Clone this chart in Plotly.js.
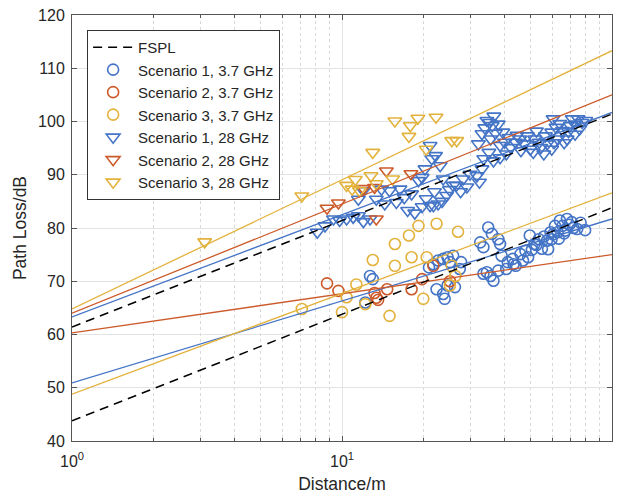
<!DOCTYPE html>
<html><head><meta charset="utf-8">
<script src="https://cdn.plot.ly/plotly-3.0.1.min.js"></script>
<style>html,body{margin:0;padding:0;background:#fff}</style>
</head><body><div id="chart" style="width:622px;height:495px"></div>
<script>
// ---- data ----
const s1_37_x = [12.2,12.7,13.0,21.0,21.8,22.7,23.7,24.6,25.8,22.4,23.7,24.0,24.6,26.2,27.3,27.6,25.1,32.5,34.8,35.9,37.9,33.4,38.5,33.4,35.5,36.4,37.9,34.4,41.1,42.9,44.0,45.8,47.8,48.9,49.6,51.7,53.6,55.0,57.4,59.2,61.5,64.1,65.6,68.1,67.0,70.9,74.3,62.9,59.7,46.8,40.6,52.5,56.0,63.5,66.5,69.5,72.0,76.5,79.5,58.0,60.5,43.2,39.0,50.5];
const s1_37_y = [66.0,71.0,70.4,72.6,73.2,73.9,74.2,74.5,74.8,68.5,67.6,66.7,69.2,68.9,72.3,73.6,73.6,77.3,80.1,78.9,77.9,76.4,77.0,71.4,71.0,70.1,72.0,71.7,73.6,74.2,72.9,75.1,75.7,74.5,78.6,77.0,77.9,76.1,77.6,79.2,80.4,81.4,80.4,81.7,79.5,81.1,79.8,79.2,77.9,73.9,72.3,76.8,78.4,78.0,79.0,80.6,80.0,81.0,79.6,76.0,78.8,73.2,74.8,75.9];
const s2_37_x = [8.8,9.7,13.2,13.4,13.6,14.7,18.1,19.8,21.8,25.1];
const s2_37_y = [69.6,68.2,67.8,66.9,66.5,68.5,68.5,70.4,72.9,70.0];
const s3_37_x = [7.1,10.0,10.4,11.3,12.2,13.0,15.0,15.7,15.7,17.7,18.1,19.2,20.0,20.6,22.4,25.1,25.5,26.9,26.3];
const s3_37_y = [64.8,64.2,67.0,69.4,65.7,74.0,63.5,77.0,72.9,78.6,74.5,80.4,66.7,74.5,80.8,69.2,72.9,79.3,71.0];
const s1_28_x = [8.1,8.65,9.3,9.8,10.4,11.0,11.5,12.0,12.7,11.5,12.0,13.4,14.0,14.4,15.0,15.9,16.4,17.0,18.1,19.2,19.8,20.3,21.2,21.5,22.2,23.1,23.7,21.2,21.8,22.7,24.4,25.0,25.8,26.5,27.5,28.1,29.0,29.8,31.6,32.3,33.0,33.5,34.4,36.0,37.9,33.0,35.5,39.4,32.0,38.5,40.0,36.4,38.5,40.6,42.2,43.9,45.6,47.3,49.8,51.1,48.6,51.7,53.8,55.9,56.7,59.8,60.5,59.8,63.0,65.6,68.2,70.0,72.9,74.9,71.2,75.9,62.0,66.5,54.5,46.0,44.5,41.5,35.0,37.0,57.5,61.0,69.0,77.5,80.0,73.0,52.5,64.0,33.8,35.2,36.5,17.5,18.6,19.8,20.5,22.0,23.5];
const s1_28_y = [79.2,80.4,81.7,81.4,81.7,82.0,82.3,81.2,81.7,85.4,87.0,85.4,87.3,84.5,87.0,84.8,87.3,85.7,86.4,88.9,89.5,91.1,95.5,93.0,93.6,91.7,89.2,84.2,84.2,84.5,86.1,87.2,88.0,88.0,86.8,89.2,87.7,90.1,89.8,88.6,91.1,93.0,100.2,99.2,99.5,97.7,96.7,98.0,95.8,95.5,96.1,92.6,93.2,93.9,95.1,96.1,96.7,95.8,94.8,94.2,97.3,96.7,96.1,93.9,97.3,98.0,100.5,94.8,96.7,98.3,96.7,99.2,99.5,100.5,100.5,98.6,98.9,96.0,95.1,94.5,97.4,97.0,94.2,97.8,95.8,96.0,98.1,99.8,100.2,97.6,98.2,99.6,98.8,99.8,101.0,83.3,82.8,84.0,85.5,86.8,85.0];
const s2_28_x = [8.8,9.7,12.0,13.2,13.4,14.6,18.0];
const s2_28_y = [83.7,84.7,87.4,87.6,81.7,90.7,90.2];
const s3_28_x = [3.1,7.1,10.4,10.9,11.2,11.6,12.8,13.0,13.4,15.4,15.7,17.7,17.9,19.1,20.5,22.3,25.5,26.6];
const s3_28_y = [77.4,86.0,88.0,87.3,89.1,87.0,89.8,94.2,88.3,89.2,100.1,97.2,99.2,100.6,94.8,100.8,96.4,96.4];

const seriesNames = ['Scenario 1, 3.7 GHz','Scenario 2, 3.7 GHz','Scenario 3, 3.7 GHz','Scenario 1, 28 GHz','Scenario 2, 28 GHz','Scenario 3, 28 GHz'];
// fitted lines: value at 1 m and at 100 m
const lineDist = [1, 100];
const fitStart = [50.9, 60.3, 48.8, 63.3, 64.0, 64.8];
const fitEnd   = [81.7, 75.0, 86.6, 101.7, 105.0, 113.3];
// FSPL lines (3.7 GHz, 28 GHz): value at 1 m and 100 m
const fsplStart = [43.8, 61.4];
const fsplEnd   = [83.8, 101.4];

const xTickVals = [1, 10, 100];
const xTickText = ['10<sup>0</sup>','10<sup>1</sup>','10<sup>2</sup>'];
const xMinorVals = [2,3,4,5,6,7,8,9,20,30,40,50,60,70,80,90];

// ---- styling ----
const cols = ['#4474C6','#CC5A2A','#E3B23C','#4474C6','#CC5A2A','#E3B23C'];
const xs = [s1_37_x,s2_37_x,s3_37_x,s1_28_x,s2_28_x,s3_28_x];
const ys = [s1_37_y,s2_37_y,s3_37_y,s1_28_y,s2_28_y,s3_28_y];

const traces = [];
for (let i = 0; i < 6; i++) {
  traces.push({
    x: xs[i], y: ys[i], type: 'scatter', mode: 'markers', name: seriesNames[i],
    legendrank: i + 2,
    marker: {symbol: i < 3 ? 'circle-open' : 'triangle-down-open', size: i < 3 ? 11 : 12,
             color: cols[i], line: {color: cols[i], width: 1.6}}
  });
}
for (let i = 0; i < 6; i++) {
  traces.push({x: lineDist, y: [fitStart[i], fitEnd[i]], type: 'scatter', mode: 'lines',
    showlegend: false, hoverinfo: 'skip', line: {color: cols[i], width: 1.3}});
}
for (let j = 0; j < 2; j++) {
  traces.push({x: lineDist, y: [fsplStart[j], fsplEnd[j]], type: 'scatter', mode: 'lines',
    name: 'FSPL', showlegend: j === 0, legendrank: 1,
    line: {color: '#000', width: 1.5, dash: '9px,6px'}});
}

const font = {family: 'Liberation Sans, Arial, sans-serif', color: '#262626'};
const layout = {
  width: 622, height: 495,
  margin: {l: 72, r: 10, t: 15, b: 54},
  paper_bgcolor: '#fff', plot_bgcolor: '#fff',
  font: Object.assign({size: 15}, font),
  showlegend: true,
  legend: {x: 0.028, y: 0.965, xanchor: 'left', yanchor: 'top', bgcolor: '#fff',
           bordercolor: '#333', borderwidth: 1, font: Object.assign({size: 15}, font),
           tracegroupgap: 0, itemwidth: 40},
  xaxis: {type: 'log', range: [0, 2], tickmode: 'array', tickvals: xTickVals, ticktext: xTickText,
          showgrid: true, gridcolor: '#e3e3e3', gridwidth: 1,
          minor: {tickmode: 'array', tickvals: xMinorVals, showgrid: true, gridcolor: '#d9d9d9', griddash: 'dot', ticks: 'inside', ticklen: 3, tickcolor: '#555'},
          ticks: 'inside', ticklen: 5, tickcolor: '#555', showline: true, linecolor: '#555', linewidth: 1, mirror: 'ticks',
          zeroline: false, tickfont: {size: 16}, ticklabelstandoff: 6,
          title: {text: 'Distance/m', font: {size: 17.5}, standoff: 8}},
  yaxis: {range: [40, 120], dtick: 10, tick0: 40, showgrid: true, gridcolor: '#e3e3e3', gridwidth: 1,
          ticks: 'inside', ticklen: 5, tickcolor: '#555', showline: true, linecolor: '#555', linewidth: 1, mirror: 'ticks',
          zeroline: false, tickfont: {size: 16}, ticklabelstandoff: 3,
          title: {text: 'Path Loss/dB', font: {size: 17.5}, standoff: 6}}
};
Plotly.newPlot('chart', traces, layout, {displayModeBar: false, staticPlot: true});
</script></body></html>
